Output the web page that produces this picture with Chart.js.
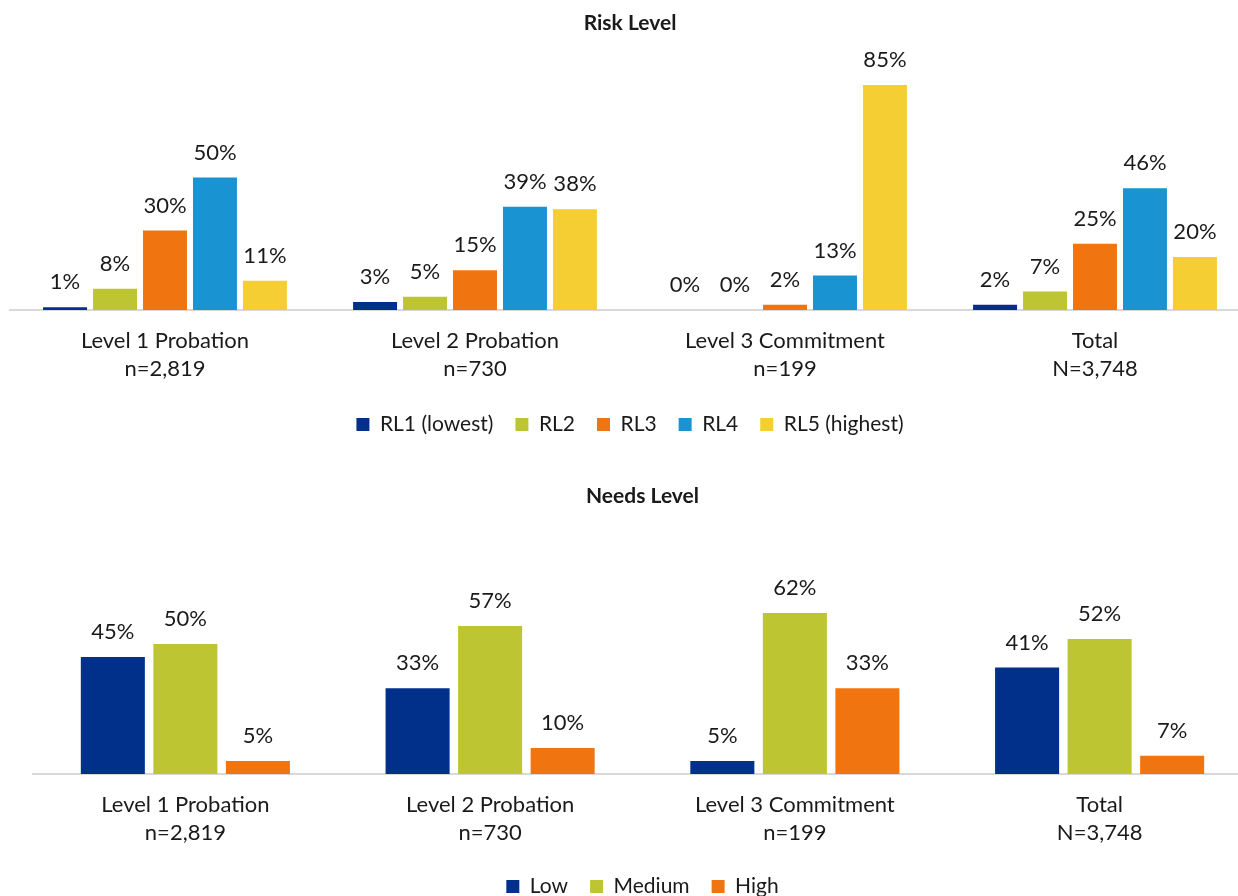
<!DOCTYPE html>
<html>
<head>
<meta charset="utf-8">
<script src="https://cdn.jsdelivr.net/npm/chart.js@4"></script>
<style>
  html, body { margin: 0; padding: 0; background: #fff; overflow: hidden; width: 1238px; height: 896px; }
  .box { position: absolute; left: 0; }
  #riskBox { top: 0; width: 1260px; height: 445px; }
  #needsBox { top: 460px; width: 1262px; height: 447px; }
</style>
</head>
<body>
<div class="box" id="riskBox"><canvas id="riskChart"></canvas></div>
<div class="box" id="needsBox"><canvas id="needsChart"></canvas></div>
<script>
// --- DATA ---
const categories = [
  ["Level 1 Probation", "n=2,819"],
  ["Level 2 Probation", "n=730"],
  ["Level 3 Commitment", "n=199"],
  ["Total", "N=3,748"],
];

const riskLabels = ["RL1 (lowest)", "RL2", "RL3", "RL4", "RL5 (highest)"];
const rl1 = [1, 3, 0, 2];
const rl2 = [8, 5, 0, 7];
const rl3 = [30, 15, 2, 25];
const rl4 = [50, 39, 13, 46];
const rl5 = [11, 38, 85, 20];

const needsLabels = ["Low", "Medium", "High"];
const needsLow = [45, 33, 5, 41];
const needsMedium = [50, 57, 62, 52];
const needsHigh = [5, 10, 33, 7];

const NAVY = "#00308A";
const LIME = "#BDC632";
const ORANGE = "#F07511";
const SKY = "#1A93D2";
const GOLD = "#F5CE33";

const FONT = "Lato, 'Noto Sans', sans-serif";
const TEXT = "#1a1a1a";

// percent labels above each bar
const barLabels = {
  id: "barLabels",
  afterDatasetsDraw(chart) {
    const ctx = chart.ctx;
    ctx.save();
    ctx.font = `22px ${FONT}`;
    ctx.fillStyle = TEXT;
    ctx.textAlign = "center";
    ctx.textBaseline = "middle";
    chart.data.datasets.forEach((ds, i) => {
      chart.getDatasetMeta(i).data.forEach((bar, j) => {
        ctx.fillText(ds.data[j] + "%", bar.x, bar.y - 25);
      });
    });
    ctx.restore();
  },
};

function makeChart(canvasId, labels, values, colors, opts) {
  const ctx = document.getElementById(canvasId).getContext("2d");
  return new Chart(ctx, {
    type: "bar",
    data: {
      labels: categories,
      datasets: labels.map((label, i) => ({
        label,
        data: values[i],
        backgroundColor: colors[i],
        borderWidth: 0,
        categoryPercentage: opts.catPct,
        barPercentage: opts.barPct,
      })),
    },
    options: {
      responsive: true,
      maintainAspectRatio: false,
      animation: false,
      layout: { padding: { left: opts.left, right: 10, top: 0, bottom: 0 } },
      scales: {
        x: {
          grid: { display: false, drawTicks: false },
          border: { display: true, color: "#D9D9D9", width: 2 },
          ticks: {
            padding: 17,
            color: TEXT,
            font: { family: FONT, size: 22, lineHeight: 1.273 },
            maxRotation: 0,
          },
          afterFit: (scale) => { scale.height += opts.axisExtra; },
        },
        y: {
          display: false,
          min: 0,
          max: opts.max,
        },
      },
      plugins: {
        title: {
          display: true,
          text: opts.title,
          color: TEXT,
          font: { family: FONT, size: 21, weight: "bold" },
          padding: { top: opts.titleTop, bottom: opts.titleBottom },
        },
        legend: {
          position: "bottom",
          labels: {
            boxWidth: 13,
            boxHeight: 13,
            padding: 22,
            color: TEXT,
            font: { family: FONT, size: 21 },
          },
        },
        tooltip: { enabled: false },
      },
    },
    plugins: [barLabels],
  });
}

makeChart("riskChart", riskLabels, [rl1, rl2, rl3, rl4, rl5], [NAVY, LIME, ORANGE, SKY, GOLD], {
  title: "Risk Level",
  max: 100,
  left: 10,
  catPct: 0.806,
  barPct: 0.88,
  titleTop: 11,
  titleBottom: 9,
  axisExtra: -8,
});

makeChart("needsChart", needsLabels, [needsLow, needsMedium, needsHigh], [NAVY, LIME, ORANGE], {
  title: "Needs Level",
  max: 80,
  left: 33,
  catPct: 0.714,
  barPct: 0.883,
  titleTop: 24,
  titleBottom: 57,
  axisExtra: -10,
});
</script>
</body>
</html>
